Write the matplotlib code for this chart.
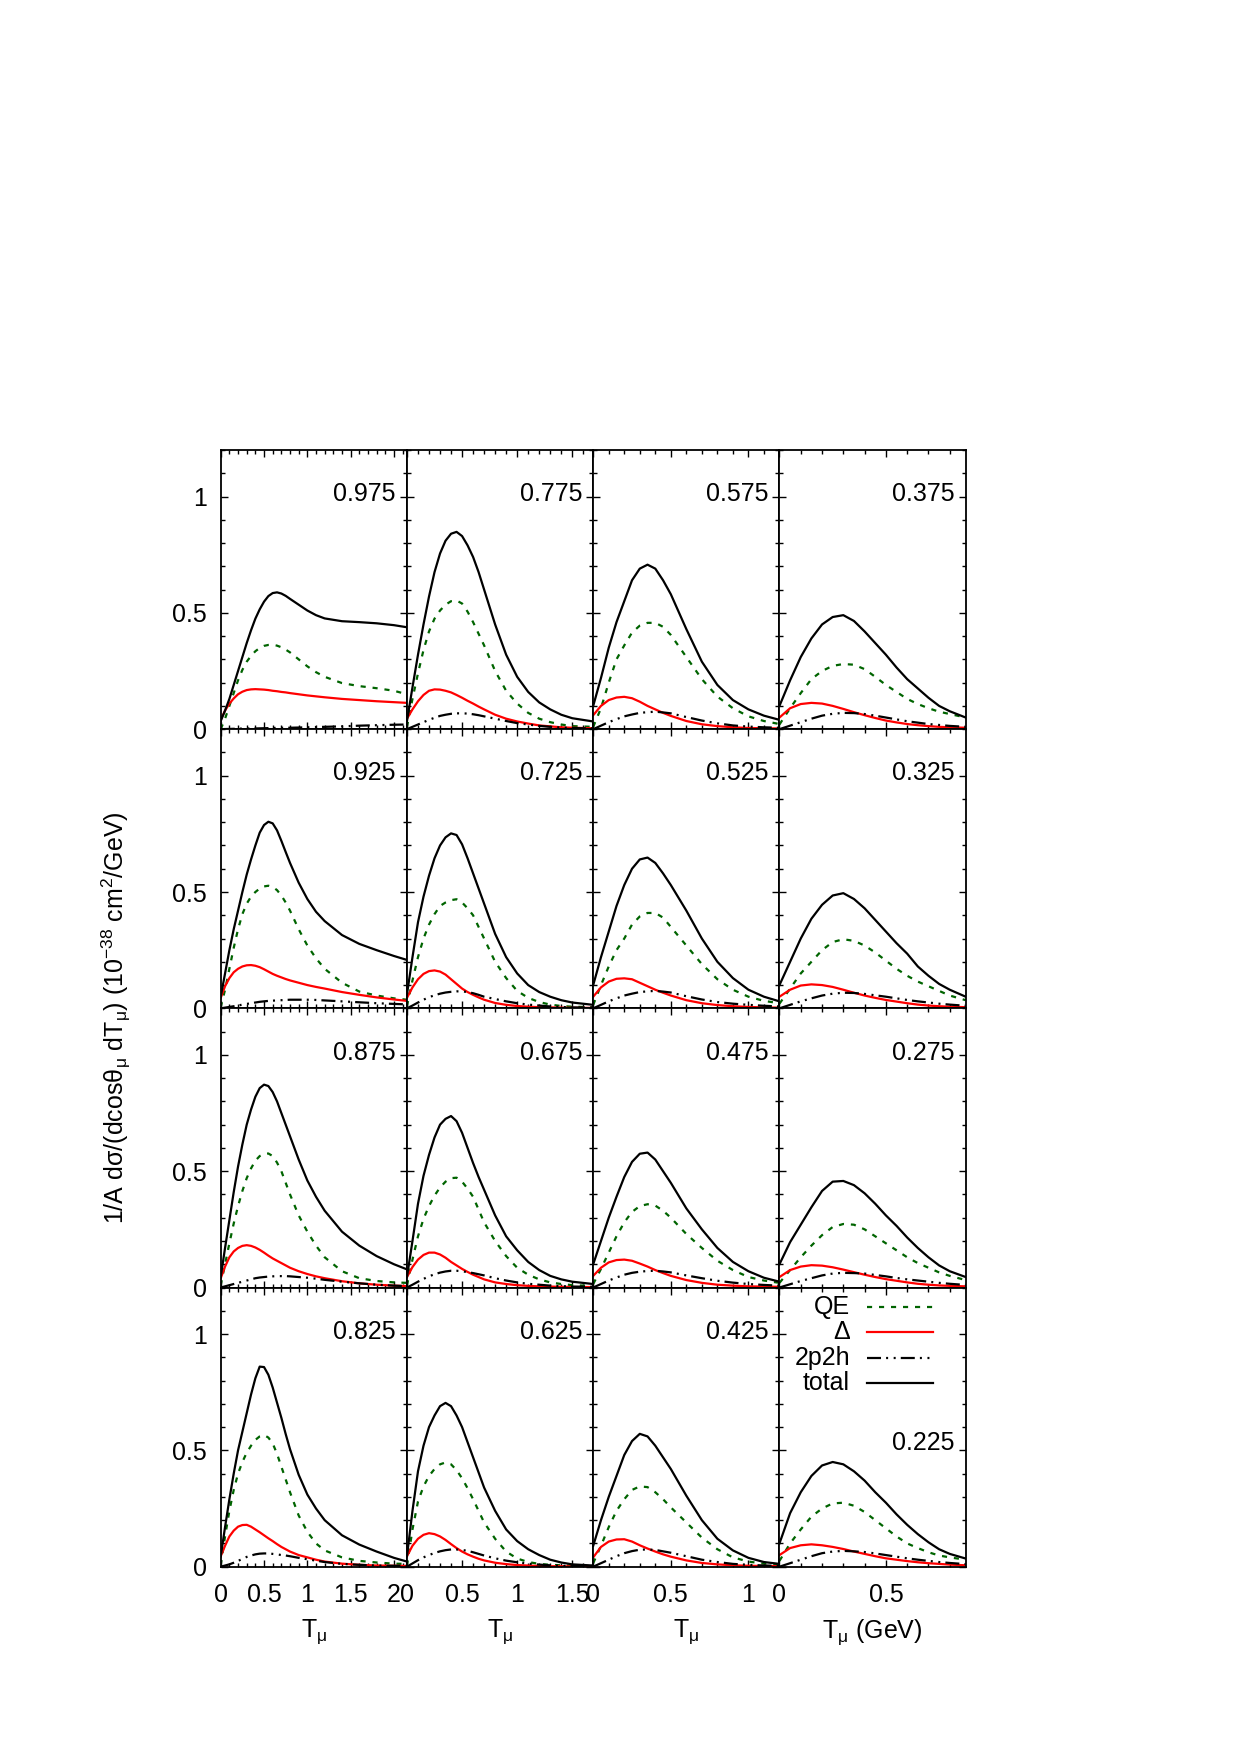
import matplotlib
matplotlib.use("Agg")
import matplotlib.pyplot as plt
from matplotlib.ticker import MultipleLocator, FuncFormatter

plt.rcParams['font.family'] = ['Liberation Sans', 'DejaVu Sans']
plt.rcParams['mathtext.fontset'] = 'custom'
plt.rcParams['mathtext.rm'] = 'Liberation Sans'
plt.rcParams['mathtext.it'] = 'Liberation Sans:italic'
plt.rcParams['mathtext.bf'] = 'Liberation Sans:bold'

# T_mu grids (GeV), one per column of panels
T_c1 = [0, 0.05, 0.1, 0.15, 0.2, 0.25, 0.3, 0.35, 0.4, 0.45, 0.5, 0.55, 0.6, 0.65, 0.7, 0.75, 0.8,
        0.9, 1.0, 1.1, 1.2, 1.4, 1.6, 1.8, 2.0, 2.15]
T_c2 = [0, 0.05, 0.1, 0.15, 0.2, 0.25, 0.3, 0.35, 0.4, 0.45, 0.5, 0.55, 0.6, 0.65, 0.7, 0.8,
        0.9, 1.0, 1.1, 1.2, 1.3, 1.4, 1.5, 1.69]
T_c3 = [0, 0.05, 0.1, 0.15, 0.2, 0.25, 0.3, 0.35, 0.4, 0.45, 0.5, 0.6, 0.7, 0.8, 0.9, 1.0, 1.1, 1.2]
T_c4 = [0, 0.05, 0.1, 0.15, 0.2, 0.25, 0.3, 0.35, 0.4, 0.45, 0.5, 0.55, 0.6, 0.65, 0.7, 0.75, 0.8, 0.875]
xmax_col = [2.15, 1.69, 1.2, 0.875]

# ---- column 1 ----
qe_975 = [0.0, 0.045, 0.1, 0.155, 0.21, 0.255, 0.29, 0.315, 0.335, 0.349, 0.358, 0.362, 0.363, 0.359, 0.352, 0.342, 0.33,
          0.3, 0.27, 0.245, 0.225, 0.198, 0.185, 0.176, 0.165, 0.15]
dl_975 = [0.04, 0.08, 0.11, 0.132, 0.15, 0.161, 0.168, 0.171, 0.172, 0.171, 0.17, 0.168, 0.165, 0.163, 0.16, 0.158, 0.155,
          0.15, 0.145, 0.141, 0.137, 0.13, 0.125, 0.12, 0.116, 0.113]
mec_975 = [0.0, 0.0005, 0.001, 0.0015, 0.002, 0.0025, 0.003, 0.003, 0.003, 0.0035, 0.004, 0.0045, 0.005, 0.0055, 0.006, 0.006, 0.006,
           0.007, 0.008, 0.009, 0.01, 0.012, 0.015, 0.017, 0.019, 0.02]
tot_975 = [0.035, 0.08, 0.13, 0.19, 0.25, 0.31, 0.37, 0.425, 0.475, 0.515, 0.548, 0.572, 0.585, 0.588, 0.583, 0.573, 0.56,
           0.535, 0.51, 0.49, 0.476, 0.464, 0.46, 0.455, 0.447, 0.438]

qe_925 = [0.005, 0.08, 0.17, 0.26, 0.34, 0.405, 0.45, 0.48, 0.5, 0.515, 0.524, 0.527, 0.522, 0.508, 0.485, 0.455, 0.42,
          0.34, 0.27, 0.215, 0.17, 0.11, 0.072, 0.055, 0.043, 0.037]
dl_925 = [0.045, 0.095, 0.13, 0.155, 0.17, 0.18, 0.185, 0.186, 0.183, 0.177, 0.168, 0.158, 0.148, 0.14, 0.133, 0.126, 0.12,
          0.11, 0.1, 0.092, 0.085, 0.07, 0.058, 0.047, 0.038, 0.032]
mec_925 = [0.0, 0.003, 0.006, 0.009, 0.012, 0.016, 0.019, 0.022, 0.025, 0.028, 0.03, 0.032, 0.033, 0.034, 0.035, 0.036, 0.037,
           0.037, 0.037, 0.036, 0.034, 0.03, 0.026, 0.022, 0.019, 0.017]
tot_925 = [0.05, 0.15, 0.25, 0.34, 0.42, 0.5, 0.575, 0.64, 0.7, 0.755, 0.788, 0.802, 0.795, 0.765, 0.72, 0.672, 0.625,
           0.54, 0.47, 0.415, 0.375, 0.315, 0.277, 0.25, 0.225, 0.208]

qe_875 = [0.01, 0.1, 0.19, 0.275, 0.35, 0.415, 0.47, 0.512, 0.545, 0.565, 0.575, 0.576, 0.565, 0.537, 0.5, 0.45, 0.4,
          0.31, 0.24, 0.18, 0.13, 0.07, 0.04, 0.028, 0.022, 0.02]
dl_875 = [0.04, 0.09, 0.13, 0.155, 0.17, 0.179, 0.182, 0.179, 0.172, 0.162, 0.15, 0.137, 0.125, 0.115, 0.105, 0.095, 0.085,
          0.07, 0.058, 0.048, 0.04, 0.027, 0.018, 0.012, 0.008, 0.006]
mec_875 = [0.0, 0.005, 0.01, 0.015, 0.02, 0.025, 0.03, 0.035, 0.04, 0.043, 0.045, 0.047, 0.048, 0.049, 0.049, 0.049, 0.048,
           0.045, 0.042, 0.038, 0.033, 0.025, 0.018, 0.012, 0.008, 0.006]
tot_875 = [0.045, 0.17, 0.29, 0.41, 0.52, 0.615, 0.7, 0.765, 0.82, 0.857, 0.872, 0.866, 0.84, 0.8, 0.75, 0.7, 0.65,
           0.55, 0.46, 0.39, 0.33, 0.24, 0.18, 0.135, 0.1, 0.078]

qe_825 = [0.007, 0.13, 0.24, 0.33, 0.4, 0.45, 0.49, 0.52, 0.545, 0.56, 0.566, 0.555, 0.53, 0.485, 0.43, 0.375, 0.32,
          0.22, 0.15, 0.1, 0.07, 0.04, 0.025, 0.018, 0.013, 0.012]
dl_825 = [0.045, 0.09, 0.13, 0.155, 0.172, 0.179, 0.18, 0.172, 0.16, 0.148, 0.135, 0.122, 0.11, 0.097, 0.085, 0.075, 0.065,
          0.05, 0.04, 0.03, 0.022, 0.013, 0.008, 0.005, 0.004, 0.003]
mec_825 = [0.0, 0.005, 0.01, 0.017, 0.025, 0.033, 0.042, 0.048, 0.053, 0.056, 0.057, 0.057, 0.055, 0.053, 0.05, 0.048, 0.045,
           0.038, 0.032, 0.026, 0.02, 0.012, 0.008, 0.005, 0.004, 0.004]
tot_825 = [0.045, 0.17, 0.29, 0.4, 0.5, 0.58, 0.66, 0.74, 0.81, 0.86, 0.858, 0.825, 0.77, 0.705, 0.64, 0.57, 0.505,
           0.395, 0.31, 0.25, 0.2, 0.135, 0.095, 0.065, 0.038, 0.022]

# ---- column 2 ----
qe_775 = [0.01, 0.13, 0.24, 0.34, 0.42, 0.475, 0.51, 0.535, 0.55, 0.553, 0.54, 0.505, 0.46, 0.41, 0.36, 0.25,
          0.165, 0.11, 0.07, 0.045, 0.03, 0.02, 0.013, 0.01]
dl_775 = [0.045, 0.085, 0.12, 0.147, 0.165, 0.171, 0.17, 0.165, 0.158, 0.147, 0.135, 0.122, 0.11, 0.097, 0.085, 0.062,
          0.045, 0.033, 0.024, 0.016, 0.012, 0.008, 0.006, 0.004]
mec_775 = [0.0, 0.01, 0.02, 0.03, 0.04, 0.049, 0.057, 0.062, 0.066, 0.068, 0.068, 0.067, 0.064, 0.06, 0.055, 0.045,
           0.035, 0.026, 0.02, 0.014, 0.01, 0.007, 0.005, 0.003]
tot_775 = [0.035, 0.18, 0.32, 0.45, 0.57, 0.675, 0.755, 0.81, 0.84, 0.848, 0.83, 0.79, 0.74, 0.675, 0.6, 0.45,
           0.32, 0.225, 0.16, 0.115, 0.085, 0.062, 0.047, 0.033]

qe_725 = [0.01, 0.12, 0.22, 0.3, 0.36, 0.405, 0.44, 0.455, 0.465, 0.469, 0.455, 0.43, 0.4, 0.35, 0.3, 0.2,
          0.13, 0.075, 0.045, 0.027, 0.016, 0.01, 0.007, 0.005]
dl_725 = [0.045, 0.09, 0.125, 0.148, 0.16, 0.163, 0.158, 0.145, 0.125, 0.105, 0.085, 0.07, 0.058, 0.047, 0.037, 0.023,
          0.015, 0.01, 0.007, 0.005, 0.004, 0.003, 0.002, 0.002]
mec_725 = [0.0, 0.012, 0.025, 0.037, 0.048, 0.056, 0.063, 0.068, 0.071, 0.073, 0.073, 0.07, 0.065, 0.058, 0.05, 0.04,
           0.03, 0.022, 0.016, 0.012, 0.008, 0.006, 0.004, 0.003]
tot_725 = [0.06, 0.22, 0.37, 0.48, 0.57, 0.645, 0.7, 0.735, 0.752, 0.745, 0.705, 0.645, 0.58, 0.515, 0.45, 0.32,
           0.22, 0.15, 0.1, 0.07, 0.05, 0.035, 0.025, 0.015]

qe_675 = [0.01, 0.12, 0.22, 0.295, 0.35, 0.395, 0.43, 0.455, 0.47, 0.472, 0.455, 0.425, 0.39, 0.335, 0.28, 0.2,
          0.135, 0.085, 0.055, 0.035, 0.022, 0.015, 0.01, 0.007]
dl_675 = [0.045, 0.088, 0.12, 0.14, 0.15, 0.15, 0.142, 0.128, 0.11, 0.095, 0.08, 0.067, 0.055, 0.045, 0.035, 0.022,
          0.015, 0.01, 0.007, 0.005, 0.004, 0.003, 0.002, 0.002]
mec_675 = [0.0, 0.012, 0.025, 0.037, 0.048, 0.057, 0.064, 0.069, 0.072, 0.072, 0.07, 0.066, 0.062, 0.057, 0.052, 0.04,
           0.03, 0.022, 0.016, 0.012, 0.008, 0.006, 0.004, 0.003]
tot_675 = [0.045, 0.2, 0.36, 0.48, 0.57, 0.645, 0.7, 0.725, 0.737, 0.715, 0.665, 0.6, 0.535, 0.475, 0.42, 0.31,
           0.22, 0.16, 0.11, 0.075, 0.05, 0.035, 0.025, 0.015]

qe_625 = [0.005, 0.16, 0.28, 0.345, 0.39, 0.42, 0.44, 0.448, 0.44, 0.415, 0.38, 0.337, 0.29, 0.24, 0.19, 0.12,
          0.065, 0.035, 0.02, 0.012, 0.008, 0.006, 0.004, 0.003]
dl_625 = [0.045, 0.09, 0.12, 0.137, 0.144, 0.14, 0.13, 0.115, 0.097, 0.08, 0.065, 0.053, 0.043, 0.034, 0.027, 0.017,
          0.011, 0.007, 0.005, 0.003, 0.002, 0.002, 0.001, 0.001]
mec_625 = [0.0, 0.014, 0.028, 0.04, 0.05, 0.059, 0.066, 0.071, 0.074, 0.074, 0.072, 0.068, 0.062, 0.055, 0.048, 0.036,
           0.026, 0.019, 0.013, 0.009, 0.006, 0.004, 0.003, 0.002]
tot_625 = [0.045, 0.24, 0.41, 0.52, 0.6, 0.65, 0.69, 0.704, 0.69, 0.65, 0.6, 0.535, 0.47, 0.405, 0.34, 0.24,
           0.16, 0.11, 0.075, 0.05, 0.03, 0.018, 0.01, 0.005]

# ---- column 3 ----
qe_575 = [0.01, 0.09, 0.2, 0.3, 0.36, 0.415, 0.445, 0.457, 0.457, 0.44, 0.405, 0.31, 0.215, 0.14, 0.09, 0.055, 0.035, 0.022]
dl_575 = [0.06, 0.1, 0.125, 0.136, 0.139, 0.133, 0.118, 0.1, 0.085, 0.07, 0.057, 0.035, 0.021, 0.013, 0.008, 0.005, 0.004, 0.003]
mec_575 = [0.0, 0.015, 0.03, 0.043, 0.055, 0.063, 0.07, 0.073, 0.075, 0.072, 0.068, 0.052, 0.037, 0.025, 0.016, 0.011, 0.008, 0.006]
tot_575 = [0.1, 0.22, 0.35, 0.46, 0.55, 0.64, 0.69, 0.707, 0.69, 0.64, 0.58, 0.43, 0.29, 0.19, 0.125, 0.085, 0.058, 0.04]

qe_525 = [0.015, 0.1, 0.18, 0.25, 0.3, 0.36, 0.395, 0.41, 0.41, 0.39, 0.35, 0.27, 0.19, 0.125, 0.08, 0.05, 0.032, 0.022]
dl_525 = [0.05, 0.09, 0.115, 0.127, 0.129, 0.125, 0.11, 0.095, 0.08, 0.067, 0.055, 0.035, 0.022, 0.014, 0.009, 0.006, 0.004, 0.003]
mec_525 = [0.0, 0.015, 0.03, 0.043, 0.055, 0.063, 0.07, 0.073, 0.075, 0.072, 0.068, 0.052, 0.038, 0.027, 0.02, 0.015, 0.011, 0.008]
tot_525 = [0.1, 0.22, 0.33, 0.44, 0.53, 0.6, 0.64, 0.648, 0.625, 0.58, 0.53, 0.42, 0.3, 0.2, 0.13, 0.08, 0.05, 0.03]

qe_475 = [0.015, 0.08, 0.15, 0.22, 0.28, 0.325, 0.35, 0.358, 0.352, 0.33, 0.3, 0.23, 0.17, 0.115, 0.075, 0.045, 0.03, 0.02]
dl_475 = [0.05, 0.085, 0.108, 0.118, 0.12, 0.115, 0.103, 0.09, 0.075, 0.062, 0.05, 0.032, 0.02, 0.012, 0.008, 0.005, 0.004, 0.003]
mec_475 = [0.0, 0.015, 0.03, 0.043, 0.055, 0.063, 0.068, 0.071, 0.072, 0.069, 0.065, 0.052, 0.04, 0.029, 0.021, 0.015, 0.011, 0.008]
tot_475 = [0.1, 0.2, 0.3, 0.39, 0.475, 0.54, 0.575, 0.58, 0.55, 0.5, 0.45, 0.34, 0.25, 0.17, 0.11, 0.07, 0.042, 0.025]

qe_425 = [0.015, 0.09, 0.17, 0.24, 0.29, 0.33, 0.345, 0.342, 0.32, 0.29, 0.255, 0.19, 0.125, 0.075, 0.04, 0.022, 0.013, 0.009]
dl_425 = [0.04, 0.085, 0.108, 0.117, 0.118, 0.108, 0.092, 0.078, 0.065, 0.053, 0.043, 0.027, 0.016, 0.01, 0.006, 0.004, 0.003, 0.002]
mec_425 = [0.0, 0.015, 0.03, 0.045, 0.058, 0.067, 0.073, 0.074, 0.072, 0.066, 0.06, 0.045, 0.03, 0.02, 0.012, 0.008, 0.005, 0.004]
tot_425 = [0.09, 0.2, 0.3, 0.39, 0.48, 0.54, 0.571, 0.56, 0.52, 0.47, 0.42, 0.305, 0.2, 0.12, 0.07, 0.038, 0.02, 0.012]

# ---- column 4 ----
qe_375 = [0.02, 0.09, 0.155, 0.215, 0.25, 0.272, 0.28, 0.277, 0.258, 0.225, 0.19, 0.16, 0.13, 0.108, 0.09, 0.075, 0.065, 0.05]
dl_375 = [0.05, 0.09, 0.108, 0.113, 0.11, 0.1, 0.087, 0.073, 0.06, 0.048, 0.037, 0.029, 0.022, 0.017, 0.013, 0.01, 0.008, 0.006]
mec_375 = [0.0, 0.015, 0.03, 0.045, 0.058, 0.066, 0.07, 0.069, 0.065, 0.058, 0.05, 0.042, 0.034, 0.028, 0.022, 0.018, 0.014, 0.01]
tot_375 = [0.1, 0.21, 0.31, 0.39, 0.45, 0.482, 0.49, 0.465, 0.42, 0.37, 0.32, 0.265, 0.215, 0.175, 0.135, 0.1, 0.077, 0.05]

qe_325 = [0.02, 0.085, 0.15, 0.2, 0.25, 0.285, 0.297, 0.29, 0.27, 0.24, 0.205, 0.17, 0.14, 0.115, 0.095, 0.075, 0.055, 0.035]
dl_325 = [0.05, 0.08, 0.098, 0.103, 0.1, 0.092, 0.08, 0.067, 0.055, 0.045, 0.036, 0.029, 0.022, 0.016, 0.012, 0.009, 0.007, 0.005]
mec_325 = [0.0, 0.015, 0.03, 0.043, 0.055, 0.063, 0.067, 0.066, 0.062, 0.056, 0.05, 0.043, 0.036, 0.03, 0.025, 0.02, 0.016, 0.011]
tot_325 = [0.1, 0.2, 0.3, 0.385, 0.445, 0.485, 0.495, 0.47, 0.43, 0.38, 0.33, 0.28, 0.235, 0.18, 0.14, 0.105, 0.08, 0.05]

qe_275 = [0.02, 0.075, 0.13, 0.18, 0.225, 0.26, 0.273, 0.27, 0.25, 0.22, 0.19, 0.16, 0.13, 0.105, 0.085, 0.065, 0.05, 0.032]
dl_275 = [0.045, 0.075, 0.09, 0.096, 0.094, 0.087, 0.077, 0.066, 0.055, 0.045, 0.036, 0.029, 0.022, 0.016, 0.012, 0.009, 0.007, 0.005]
mec_275 = [0.0, 0.014, 0.028, 0.04, 0.052, 0.06, 0.063, 0.062, 0.06, 0.054, 0.048, 0.041, 0.035, 0.03, 0.025, 0.02, 0.016, 0.011]
tot_275 = [0.1, 0.195, 0.27, 0.345, 0.415, 0.455, 0.458, 0.44, 0.405, 0.36, 0.31, 0.265, 0.215, 0.17, 0.13, 0.095, 0.07, 0.045]

qe_225 = [0.025, 0.1, 0.16, 0.215, 0.25, 0.272, 0.275, 0.262, 0.235, 0.2, 0.165, 0.13, 0.1, 0.08, 0.062, 0.048, 0.04, 0.03]
dl_225 = [0.05, 0.08, 0.092, 0.096, 0.092, 0.085, 0.076, 0.065, 0.055, 0.045, 0.036, 0.03, 0.024, 0.019, 0.015, 0.012, 0.009, 0.006]
mec_225 = [0.0, 0.015, 0.03, 0.045, 0.058, 0.065, 0.068, 0.066, 0.063, 0.057, 0.05, 0.043, 0.036, 0.03, 0.025, 0.02, 0.016, 0.011]
tot_225 = [0.1, 0.23, 0.32, 0.39, 0.435, 0.45, 0.44, 0.41, 0.37, 0.32, 0.275, 0.225, 0.18, 0.14, 0.105, 0.075, 0.055, 0.035]

# panel layout: rows top->bottom, columns left->right
grid = [
    [("0.975", T_c1, qe_975, dl_975, mec_975, tot_975), ("0.775", T_c2, qe_775, dl_775, mec_775, tot_775),
     ("0.575", T_c3, qe_575, dl_575, mec_575, tot_575), ("0.375", T_c4, qe_375, dl_375, mec_375, tot_375)],
    [("0.925", T_c1, qe_925, dl_925, mec_925, tot_925), ("0.725", T_c2, qe_725, dl_725, mec_725, tot_725),
     ("0.525", T_c3, qe_525, dl_525, mec_525, tot_525), ("0.325", T_c4, qe_325, dl_325, mec_325, tot_325)],
    [("0.875", T_c1, qe_875, dl_875, mec_875, tot_875), ("0.675", T_c2, qe_675, dl_675, mec_675, tot_675),
     ("0.475", T_c3, qe_475, dl_475, mec_475, tot_475), ("0.275", T_c4, qe_275, dl_275, mec_275, tot_275)],
    [("0.825", T_c1, qe_825, dl_825, mec_825, tot_825), ("0.625", T_c2, qe_625, dl_625, mec_625, tot_625),
     ("0.425", T_c3, qe_425, dl_425, mec_425, tot_425), ("0.225", T_c4, qe_225, dl_225, mec_225, tot_225)],
]

LW = 1.6
sty_qe = dict(color='#006400', lw=LW, linestyle=(0, (2.3, 3.1)))
sty_dl = dict(color='#ff0000', lw=LW, linestyle='-')
sty_mec = dict(color='black', lw=LW, linestyle=(0, (6.3, 2.3, 0.9, 2.5, 0.9, 2.3)))
sty_tot = dict(color='black', lw=LW, linestyle='-')

FS = 18
fmt = FuncFormatter(lambda v, p: '%g' % v)

fig = plt.figure(figsize=(12.4, 17.55), dpi=100)
gs = fig.add_gridspec(4, 4, left=0.178, right=0.7788, bottom=0.1073, top=0.7436,
                      wspace=0, hspace=0)

for r in range(4):
    for c in range(4):
        ax = fig.add_subplot(gs[r, c])
        lab, T, qe, dl, mec, tot = grid[r][c]
        ax.plot(T, qe, **sty_qe)
        ax.plot(T, dl, **sty_dl)
        ax.plot(T, mec, **sty_mec)
        ax.plot(T, tot, **sty_tot)

        ax.set_xlim(0, xmax_col[c])
        ax.set_ylim(0, 1.2)
        ax.xaxis.set_major_locator(MultipleLocator(0.5))
        ax.xaxis.set_minor_locator(MultipleLocator(0.1))
        ax.yaxis.set_major_locator(MultipleLocator(0.5))
        ax.yaxis.set_minor_locator(MultipleLocator(0.1))
        ax.xaxis.set_major_formatter(fmt)
        ax.yaxis.set_major_formatter(fmt)
        ax.tick_params(which='both', direction='in', top=True, right=True,
                       labelsize=FS, width=1.0)
        ax.tick_params(which='major', length=5)
        ax.tick_params(which='minor', length=2.6)
        ax.tick_params(axis='x', pad=12)
        ax.tick_params(axis='y', pad=10)
        if c != 0:
            ax.tick_params(labelleft=False)
        if r != 3:
            ax.tick_params(labelbottom=False)
        for s in ax.spines.values():
            s.set_linewidth(1.3)

        ylab = 0.53 if lab == "0.225" else 1.01
        ax.text(0.94, ylab, lab, transform=ax.get_yaxis_transform(), ha='right',
                va='center', fontsize=FS)

        if r == 3:
            xl = r'T$_{\mathrm{μ}}$ (GeV)' if c == 3 else r'T$_{\mathrm{μ}}$'
            ax.set_xlabel(xl, fontsize=FS, labelpad=7)

        if r == 3 and c == 3:
            entries = [("QE", sty_qe), ("Δ", sty_dl), ("2p2h", sty_mec), ("total", sty_tot)]
            for i, (name, st) in enumerate(entries):
                yy = 0.931 - i * 0.091
                ax.text(0.379, yy, name, transform=ax.transAxes, ha='right',
                        va='center', fontsize=FS)
                ax.plot([0.469, 0.825], [yy, yy], transform=ax.transAxes, **st)

fig.text(0.094, 0.42,
         r'1/A dσ/(dcosθ$_{\mathrm{μ}}$ dT$_{\mathrm{μ}}$) (10$^{\mathrm{-38}}$ cm$^{\mathrm{2}}$/GeV)',
         rotation=90, ha='center', va='center', fontsize=FS)

fig.savefig('out.png', dpi=100)
